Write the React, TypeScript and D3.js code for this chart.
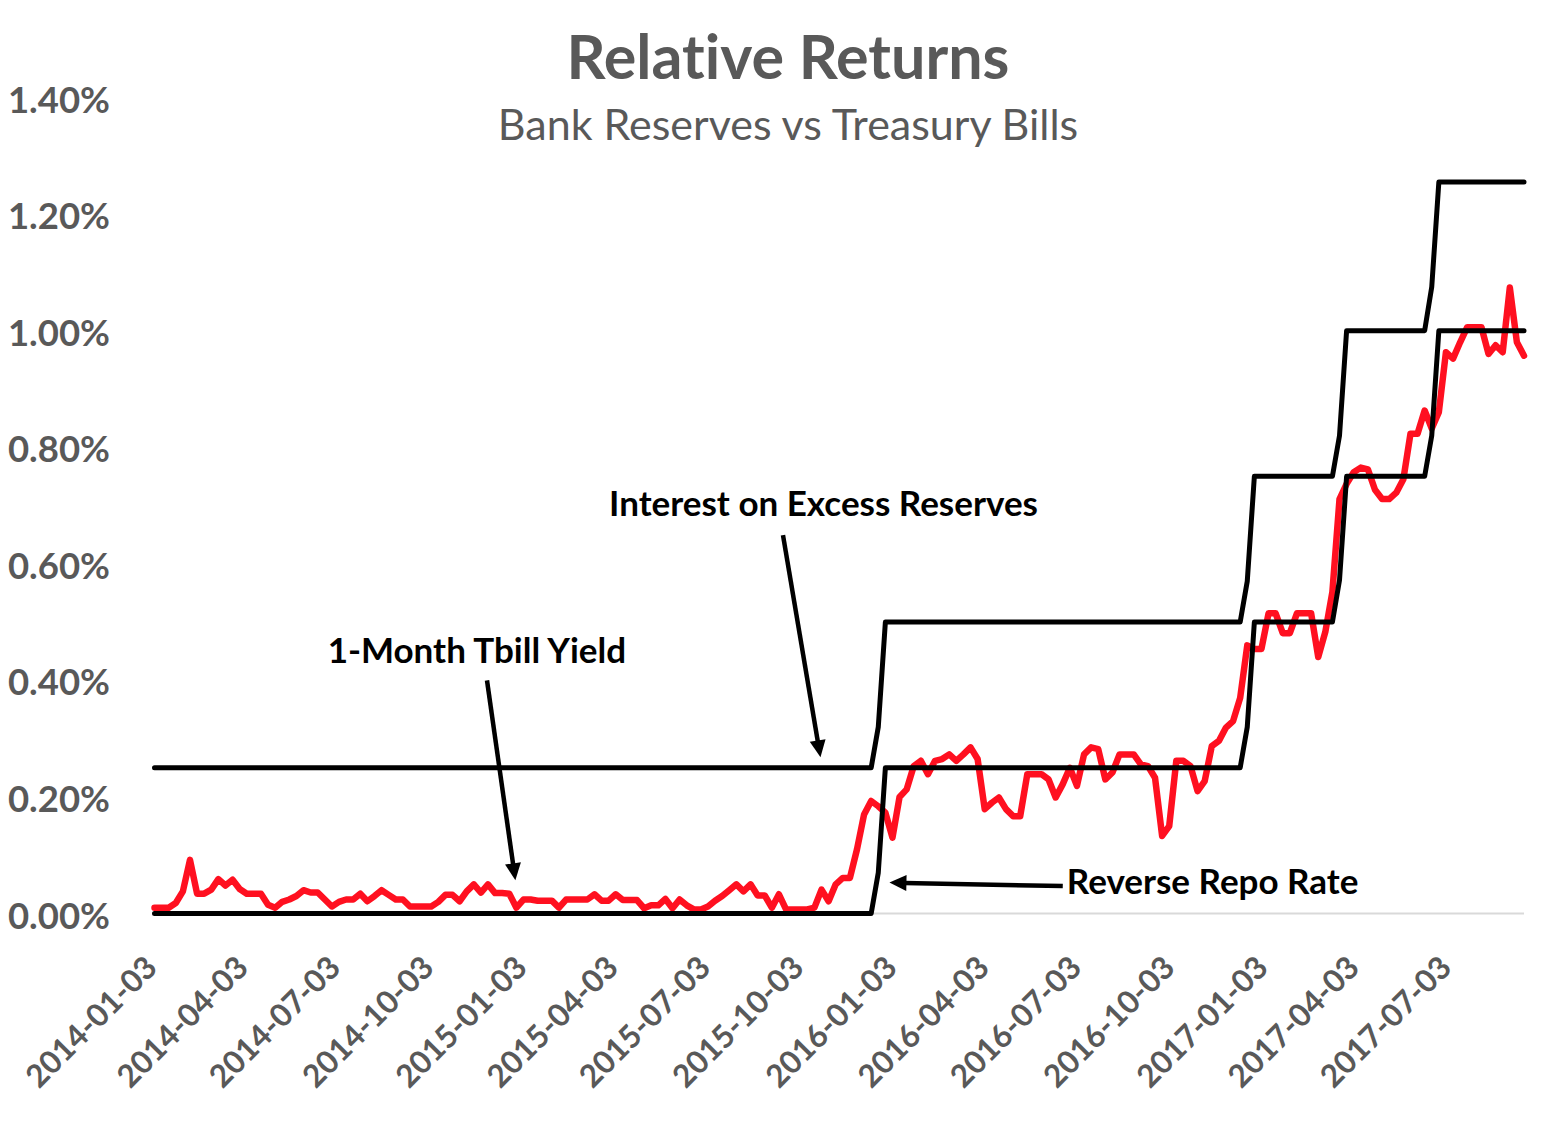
import React from "react";
import * as d3 from "d3";

// ---------- DATA ----------
const START_DATE = "2014-01-03"; // first weekly observation (Fridays)

// 1-Month T-bill yield, weekly, in %
const TBILL_YIELD = [
  0.01, 0.01, 0.01, 0.018, 0.038, 0.092, 0.034, 0.034, 0.041, 0.059,
  0.048, 0.058, 0.042, 0.034, 0.034, 0.034, 0.015, 0.01, 0.02, 0.024,
  0.03, 0.04, 0.036, 0.036, 0.024, 0.012, 0.02, 0.024, 0.024, 0.034,
  0.021, 0.03, 0.04, 0.032, 0.024, 0.024, 0.012, 0.012, 0.012, 0.012,
  0.02, 0.032, 0.032, 0.021, 0.038, 0.05, 0.036, 0.05, 0.035, 0.035,
  0.034, 0.01, 0.024, 0.024, 0.022, 0.022, 0.022, 0.01, 0.024, 0.024,
  0.024, 0.024, 0.033, 0.022, 0.022, 0.033, 0.023, 0.023, 0.023, 0.009,
  0.014, 0.014, 0.025, 0.009, 0.024, 0.014, 0.007, 0.007, 0.012, 0.022,
  0.03, 0.04, 0.05, 0.038, 0.05, 0.031, 0.031, 0.01, 0.033, 0.007,
  0.007, 0.007, 0.007, 0.01, 0.041, 0.021, 0.05, 0.061, 0.061, 0.11,
  0.17, 0.193, 0.184, 0.173, 0.13, 0.2, 0.213, 0.253, 0.262, 0.239,
  0.262, 0.265, 0.273, 0.262, 0.273, 0.285, 0.265, 0.179, 0.19, 0.199,
  0.179, 0.167, 0.167, 0.239, 0.239, 0.239, 0.23, 0.199, 0.222, 0.25,
  0.219, 0.273, 0.285, 0.282, 0.23, 0.242, 0.273, 0.273, 0.273, 0.256,
  0.253, 0.233, 0.133, 0.15, 0.262, 0.262, 0.253, 0.21, 0.227, 0.287,
  0.296, 0.319, 0.33, 0.37, 0.46, 0.454, 0.454, 0.515, 0.515, 0.481,
  0.481, 0.515, 0.515, 0.515, 0.44, 0.483, 0.552, 0.711, 0.737, 0.757,
  0.765, 0.762, 0.727, 0.711, 0.711, 0.722, 0.745, 0.823, 0.823, 0.863,
  0.832, 0.86, 0.963, 0.952, 0.98, 1.006, 1.006, 1.006, 0.96, 0.975,
  0.963, 1.074, 0.98, 0.957,
];

// Step lines (vertices of the weekly series)
const RATE_DATES = [
  "2014-01-03", "2015-12-11", "2015-12-18", "2015-12-25",
  "2016-12-09", "2016-12-16", "2016-12-23",
  "2017-03-10", "2017-03-17", "2017-03-24",
  "2017-06-09", "2017-06-16", "2017-06-23", "2017-09-15",
];
const IOER_VALUES = [0.25, 0.25, 0.32, 0.5, 0.5, 0.57, 0.75, 0.75, 0.82, 1.0, 1.0, 1.075, 1.255, 1.255];
const RRP_VALUES = [0.0, 0.0, 0.07, 0.25, 0.25, 0.32, 0.5, 0.5, 0.572, 0.75, 0.75, 0.82, 1.0, 1.0];

const X_TICKS = [
  "2014-01-03", "2014-04-03", "2014-07-03", "2014-10-03",
  "2015-01-03", "2015-04-03", "2015-07-03", "2015-10-03",
  "2016-01-03", "2016-04-03", "2016-07-03", "2016-10-03",
  "2017-01-03", "2017-04-03", "2017-07-03",
];
const Y_TICKS = [0, 0.2, 0.4, 0.6, 0.8, 1.0, 1.2, 1.4];

const TITLE = "Relative Returns";
const SUBTITLE = "Bank Reserves vs Treasury Bills";

// Annotations in data space: [date, value]
const ANNOTATIONS = [
  { text: "Interest on Excess Reserves", at: ["2015-10-25", 0.682], anchor: "middle", from: ["2015-09-15", 0.649], to: ["2015-10-22", 0.268] },
  { text: "1-Month Tbill Yield", at: ["2014-11-17", 0.43], anchor: "middle", from: ["2014-11-27", 0.4], to: ["2014-12-25", 0.057] },
  { text: "Reverse Repo Rate", at: ["2016-06-21", 0.034], anchor: "start", from: ["2016-06-17", 0.047], to: ["2015-12-29", 0.053] },
];

// ---------- CHART ----------
const W = 1562;
const H = 1136;
const FONT = "Lato, 'Open Sans', sans-serif";
const GREY = "#595959";
const RED = "#FF1020";
const NOLIG = { fontVariantLigatures: "none" as const, fontFeatureSettings: "'liga' 0" };

const parse = d3.utcParse("%Y-%m-%d");

export default function App() {
  const start = parse(START_DATE) as Date;
  const tbill: [Date, number][] = TBILL_YIELD.map((v, i) => [d3.utcDay.offset(start, 7 * i), v]);
  const rateDates = RATE_DATES.map((d) => parse(d) as Date);
  const ioer: [Date, number][] = rateDates.map((d, i) => [d, IOER_VALUES[i]]);
  const rrp: [Date, number][] = rateDates.map((d, i) => [d, RRP_VALUES[i]]);

  const x = d3
    .scaleUtc()
    .domain([tbill[0][0], tbill[tbill.length - 1][0]])
    .range([154.5, 1524]);
  const y = d3.scaleLinear().domain([0, 1.4]).range([913.5, 97.5]);

  const line = d3
    .line<[Date, number]>()
    .x((d) => x(d[0]))
    .y((d) => y(d[1]));

  const fmtPct = (v: number) => d3.format(".2f")(v) + "%";

  const arrow = (a: (typeof ANNOTATIONS)[number], key: number) => {
    const x1 = x(parse(a.from[0] as string) as Date);
    const y1 = y(a.from[1] as number);
    const x2 = x(parse(a.to[0] as string) as Date);
    const y2 = y(a.to[1] as number);
    const dx = x2 - x1;
    const dy = y2 - y1;
    const len = Math.hypot(dx, dy);
    const ux = dx / len;
    const uy = dy / len;
    const headLen = 17;
    const headHalf = 8;
    const bx = x2 - ux * headLen;
    const by = y2 - uy * headLen;
    const px = -uy;
    const py = ux;
    const tri = `M${x2},${y2}L${bx + px * headHalf},${by + py * headHalf}L${bx - px * headHalf},${by - py * headHalf}Z`;
    return (
      <g key={key}>
        <line x1={x1} y1={y1} x2={bx + ux * 2} y2={by + uy * 2} stroke="#000" strokeWidth={4.5} />
        <path d={tri} fill="#000" />
      </g>
    );
  };

  return (
    <div style={{ position: "absolute", left: 0, top: 0, width: W, height: H, background: "#fff" }}>
      <svg width={W} height={H} style={{ display: "block" }}>
        <rect width={W} height={H} fill="#fff" />
        <text x={788} y={79} textAnchor="middle" fontFamily={FONT} fontWeight={700} fontSize={61} fill={GREY} style={NOLIG}>
          {TITLE}
        </text>
        <text x={788} y={140} textAnchor="middle" fontFamily={FONT} fontWeight={400} fontSize={43} fill={GREY} style={NOLIG}>
          {SUBTITLE}
        </text>

        {/* y tick labels */}
        {Y_TICKS.map((v) => (
          <text
            key={v}
            x={110}
            y={y(v) + 1}
            textAnchor="end"
            dominantBaseline="central"
            fontFamily={FONT}
            fontWeight={700}
            fontSize={36.5}
            fill={GREY}
          >
            {fmtPct(v)}
          </text>
        ))}

        {/* x tick labels */}
        {X_TICKS.map((d) => {
          const xx = x(parse(d) as Date);
          return (
            <text
              key={d}
              transform={`translate(${xx - 4},${961}) rotate(-45)`}
              textAnchor="end"
              dominantBaseline="central"
              fontFamily={FONT}
              fontWeight={700}
              fontSize={31.5}
              fill={GREY}
            >
              {d}
            </text>
          );
        })}

        {/* baseline */}
        <line x1={x.range()[0]} x2={x.range()[1]} y1={y(0)} y2={y(0)} stroke="#D9D9D9" strokeWidth={2} />

        {/* series */}
        <path d={line(tbill) || ""} fill="none" stroke={RED} strokeWidth={6.5} strokeLinejoin="round" strokeLinecap="round" />
        <path d={line(rrp) || ""} fill="none" stroke="#000" strokeWidth={5} strokeLinejoin="round" strokeLinecap="round" />
        <path d={line(ioer) || ""} fill="none" stroke="#000" strokeWidth={5} strokeLinejoin="round" strokeLinecap="round" />

        {/* annotations */}
        {ANNOTATIONS.map((a, i) => (
          <text
            key={"t" + i}
            x={x(parse(a.at[0] as string) as Date)}
            y={y(a.at[1] as number)}
            textAnchor={a.anchor}
            fontFamily={FONT}
            fontWeight={700}
            fontSize={35}
            fill="#000"
            style={NOLIG}
          >
            {a.text}
          </text>
        ))}
        {ANNOTATIONS.map((a, i) => arrow(a, i))}
      </svg>
    </div>
  );
}
